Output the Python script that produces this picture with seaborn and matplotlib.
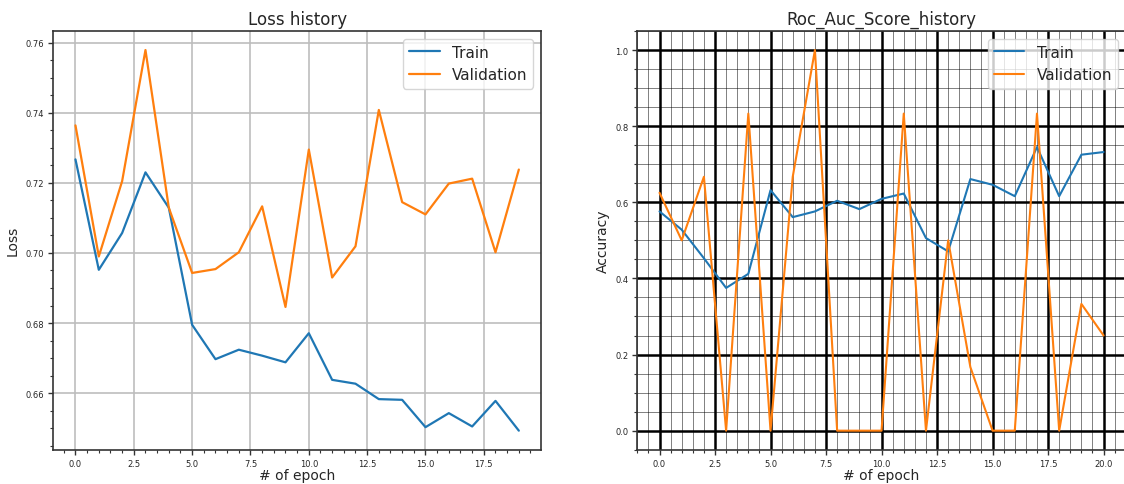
import pandas as pd
import matplotlib
matplotlib.use("Agg")
import matplotlib.pyplot as plt
import seaborn as sns

# Values
loss_epochs = list(range(20))
loss_train = [0.7267, 0.6952, 0.7057, 0.7230, 0.7129, 0.6795, 0.6697, 0.6724, 0.6707, 0.6688,
              0.6771, 0.6638, 0.6627, 0.6583, 0.6581, 0.6503, 0.6543, 0.6505, 0.6578, 0.6493]
loss_val = [0.7364, 0.6990, 0.7205, 0.7579, 0.7129, 0.6943, 0.6954, 0.7002, 0.7133, 0.6846,
            0.7295, 0.6930, 0.7019, 0.7408, 0.7145, 0.7110, 0.7198, 0.7212, 0.7002, 0.7238]

auc_epochs = list(range(21))
auc_train = [0.576, 0.528, 0.453, 0.375, 0.412, 0.632, 0.561, 0.576, 0.604, 0.582, 0.609,
             0.623, 0.506, 0.471, 0.661, 0.646, 0.616, 0.745, 0.616, 0.725, 0.732]
auc_val = [0.625, 0.5, 0.667, 0.0, 0.833, 0.0, 0.667, 1.0, 0.0, 0.0, 0.0,
           0.833, 0.0, 0.5, 0.167, 0.0, 0.0, 0.833, 0.0, 0.333, 0.25]

set_names = ["Train", "Validation"]
colors = ["#1f77b4", "#ff7f0e"]


def long_form(epochs, train, val):
    df_t = pd.DataFrame({"epoch": epochs, "value": train, "set": set_names[0]})
    df_v = pd.DataFrame({"epoch": epochs, "value": val, "set": set_names[1]})
    return pd.concat([df_t, df_v], ignore_index=True)


loss_df = long_form(loss_epochs, loss_train, loss_val)
auc_df = long_form(auc_epochs, auc_train, auc_val)

sns.set_style("ticks")
plt.rcParams["font.family"] = ["DejaVu Sans"]

W, H = 1124, 485
fig = plt.figure(figsize=(W / 100, H / 100), dpi=100)
bottom = 1 - 450.7 / H
height = 418.7 / H
ax1 = fig.add_axes([53.3 / W, bottom, 487.7 / W, height])
ax2 = fig.add_axes([637.3 / W, bottom, 488.5 / W, height])

# Loss history
sns.lineplot(data=loss_df, x="epoch", y="value", hue="set", palette=colors, lw=1.6, ax=ax1)
ax1.set_title("Loss history", fontsize=12, pad=5)
ax1.set_xlabel("# of epoch", fontsize=10, labelpad=0)
ax1.set_ylabel("Loss", fontsize=10)
ax1.minorticks_on()
ax1.grid(True, which="major", color="#bdbdbd", lw=1.2)
ax1.legend(fontsize=11, loc="upper right")

# Roc auc history
sns.lineplot(data=auc_df, x="epoch", y="value", hue="set", palette=colors, lw=1.5, ax=ax2)
ax2.set_title("Roc_Auc_Score_history", fontsize=12, pad=5)
ax2.set_xlabel("# of epoch", fontsize=10, labelpad=0)
ax2.set_ylabel("Accuracy", fontsize=10)
ax2.minorticks_on()
ax2.grid(True, which="major", color="black", lw=1.8)
ax2.grid(True, which="minor", color="black", lw=0.7, alpha=0.5)
ax2.set_axisbelow(True)
ax2.legend(fontsize=11, loc="upper right")

for ax in (ax1, ax2):
    ax.tick_params(which="major", labelsize=6, length=3.5, width=1, color="#333333", pad=3)
    ax.tick_params(which="minor", length=2, width=0.8, color="#333333")
    for sp in ax.spines.values():
        sp.set_visible(True)
        sp.set_linewidth(1.2)
        sp.set_color("#333333")

fig.savefig("out.png", dpi=100)
